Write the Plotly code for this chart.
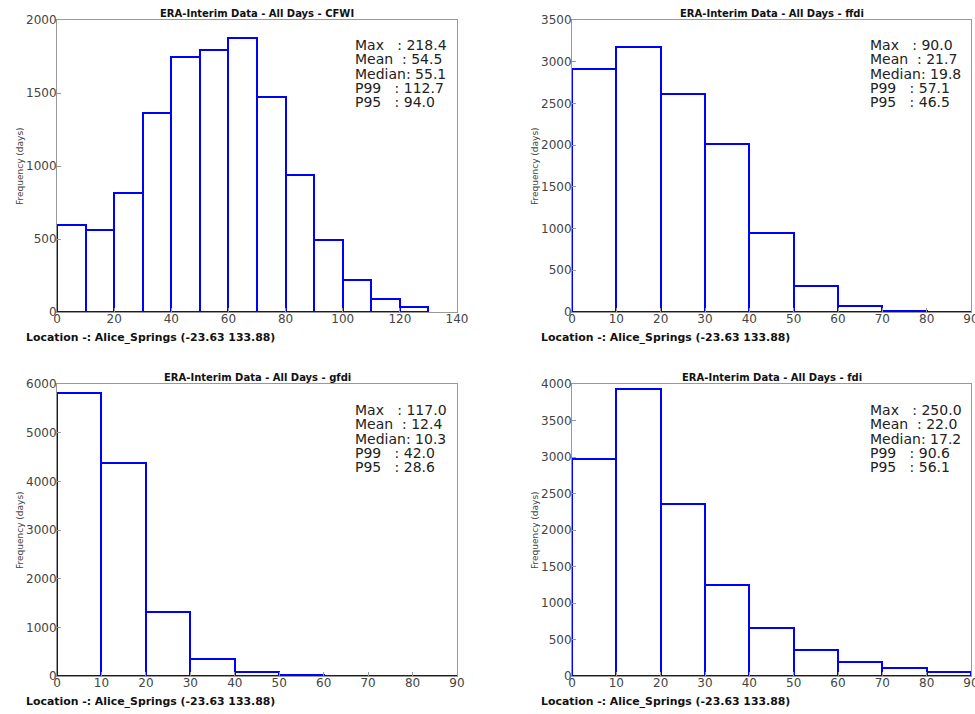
import plotly.graph_objects as go

# ---- data ----
bins_cfwi = [0, 10, 20, 30, 40, 50, 60, 70, 80, 90, 100, 110, 120]
counts_cfwi = [594, 565, 816, 1365, 1749, 1794, 1874, 1474, 937, 496, 222, 89, 37]

bins_ffdi = [0, 10, 20, 30, 40, 50, 60, 70, 80]
counts_ffdi = [2908, 3172, 2612, 2012, 944, 308, 68, 12, 5]

bins_gfdi = [0, 10, 20, 30, 40, 50, 60, 70, 80]
counts_gfdi = [5808, 4382, 1323, 357, 89, 27, 10, 5, 2]

bins_fdi = [0, 10, 20, 30, 40, 50, 60, 70, 80]
counts_fdi = [2976, 3936, 2359, 1253, 663, 357, 192, 114, 50]

bin_width = 10

titles = ["ERA-Interim Data - All Days - CFWI", "ERA-Interim Data - All Days - ffdi",
          "ERA-Interim Data - All Days - gfdi", "ERA-Interim Data - All Days - fdi"]
stats = [
    ["Max   : 218.4", "Mean  : 54.5", "Median: 55.1", "P99   : 112.7", "P95   : 94.0"],
    ["Max   : 90.0", "Mean  : 21.7", "Median: 19.8", "P99   : 57.1", "P95   : 46.5"],
    ["Max   : 117.0", "Mean  : 12.4", "Median: 10.3", "P99   : 42.0", "P95   : 28.6"],
    ["Max   : 250.0", "Mean  : 22.0", "Median: 17.2", "P99   : 90.6", "P95   : 56.1"],
]
location = "Location -: Alice_Springs (-23.63 133.88)"
ytitle = "Frequency (days)"
xranges = [[0, 140], [0, 90], [0, 90], [0, 90]]
yranges = [[0, 2000], [0, 3500], [0, 6000], [0, 4000]]
xdticks = [20, 10, 10, 10]
ydticks = [500, 500, 1000, 500]

W, H = 975, 714
# pixel boxes of plot areas: (left, right, top, bottom)
boxes = [(57, 457, 20, 312), (572, 971, 20, 312), (57, 457, 384, 676), (572, 971, 384, 676)]

series = [(bins_cfwi, counts_cfwi), (bins_ffdi, counts_ffdi), (bins_gfdi, counts_gfdi), (bins_fdi, counts_fdi)]


def px(x):
    return x / W


def py(y):
    return 1 - y / H


fig = go.Figure()
font_main = "DejaVu Sans, Arial, sans-serif"
layout = dict(width=W, height=H, margin=dict(l=0, r=0, t=0, b=0, autoexpand=False), showlegend=False,
              paper_bgcolor="white", plot_bgcolor="white", bargap=0,
              font=dict(family=font_main))
annotations = []
for i, ((bins, counts), box) in enumerate(zip(series, boxes)):
    n = "" if i == 0 else str(i + 1)
    xa, ya = "x" + n, "y" + n
    l, r, t, b = box
    fig.add_trace(go.Bar(x=[v + bin_width / 2 for v in bins], y=counts, width=bin_width,
                         marker=dict(color="white", line=dict(color="#0000ff", width=2)),
                         xaxis=xa, yaxis=ya, hoverinfo="x+y", cliponaxis=False))
    layout["xaxis" + n] = dict(domain=[px(l), px(r)], range=xranges[i], anchor=ya, automargin=False,
                               tick0=0, dtick=xdticks[i], showgrid=False, zeroline=False,
                               showline=True, linecolor="#999999", linewidth=1, mirror=True,
                               ticks="inside", ticklen=4, tickcolor="#999999",
                               ticklabelstandoff=-4, ticklabeloverflow="allow",
                               tickfont=dict(size=12, color="#444444"))
    layout["yaxis" + n] = dict(domain=[py(b), py(t)], range=yranges[i], anchor=xa, automargin=False,
                               tick0=0, dtick=ydticks[i], showgrid=False, zeroline=False,
                               showline=True, linecolor="#999999", linewidth=1, mirror=True,
                               ticks="inside", ticklen=4, tickcolor="#999999",
                               ticklabelstandoff=-3, ticklabeloverflow="allow",
                               tickfont=dict(size=12, color="#444444"))
    # y-axis title
    annotations.append(dict(text=ytitle, xref="paper", yref="paper", textangle=-90,
                            x=px(l - 37), y=py((t + b) / 2), xanchor="center", yanchor="middle",
                            showarrow=False, font=dict(size=9, color="#444444")))
    # title
    annotations.append(dict(text="<b>" + titles[i] + "</b>", xref="paper", yref="paper",
                            x=px((l + r) / 2), y=py(t - 7), xanchor="center", yanchor="middle",
                            showarrow=False, font=dict(size=10, color="#111111")))
    # stats block: base font 11 sets line spacing (~14.3px), glyphs drawn at 14px
    block = "<br>".join('<span style="font-size:14px">' + s + "</span>" for s in stats[i])
    annotations.append(dict(text=block, xref="paper", yref="paper",
                            x=px(l + 296), y=py(t + 54),
                            xanchor="left", yanchor="middle",
                            align="left", showarrow=False,
                            font=dict(size=11, color="#222222")))
    # location
    annotations.append(dict(text="<b>" + location + "</b>", xref="paper", yref="paper",
                            x=px(l - 33), y=py(b + 25), xanchor="left", yanchor="middle",
                            showarrow=False, font=dict(size=10.9, color="#111111")))

layout["annotations"] = annotations
fig.update_layout(**layout)
# remove the default 8px page margin so the figure fills the window exactly
fig.write_html("out.html", config={"displayModeBar": False},
               post_script="document.body.style.margin='0';document.body.style.overflow='hidden';")
